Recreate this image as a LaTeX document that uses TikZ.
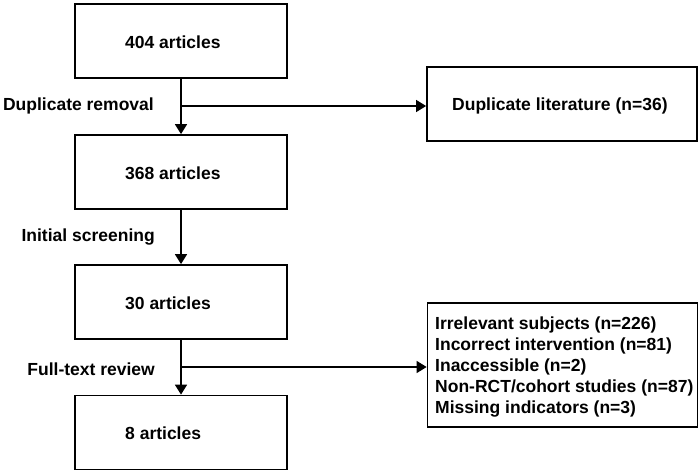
\documentclass[tikz,border=0pt]{standalone}
\usepackage{fontspec}
\setmainfont{Liberation Sans}
\usetikzlibrary{arrows.meta,positioning}
\begin{document}
\begin{tikzpicture}[x=1pt,y=-1pt,
  every node/.style={font=\bfseries\fontsize{17.5}{20.8}\selectfont, inner sep=0pt},
  box/.style={draw, line width=1.8pt, minimum width=212pt, minimum height=74pt},
  sidebox/.style={draw, line width=1.8pt, minimum width=270pt, minimum height=74pt},
  boxtext/.style={anchor=west},
  steplabel/.style={anchor=east},
  flow/.style={line width=1.8pt, -{Triangle[length=10pt,width=12pt]}},
  branch/.style={line width=1.5pt, -{Triangle[length=10pt,width=12pt]}}]
\useasboundingbox (0,0) rectangle (700,473);

% main column
\node[box] (b1) at (181,41) {};
\node[boxtext] at (125,42) {404 articles};
\node[box] (b2) at (181,172) {};
\node[boxtext] at (125,173) {368 articles};
\node[box] (b3) at (181,302) {};
\node[boxtext] at (125,303) {30 articles};
\node[box] (b4) at (181,432.5) {};
\node[boxtext] at (125,433) {8 articles};

% excluded records
\node[sidebox] (d1) at (562,104) {};
\node[anchor=west] at (452,106) {Duplicate literature (n=36)};
\node[sidebox, minimum height=124pt] (d2) at (562.5,365) {};
\node[anchor=west, align=left] at (435,367) {Irrelevant subjects (n=226)\\
Incorrect intervention (n=81)\\
Inaccessible (n=2)\\
Non-RCT/cohort studies (n=87)\\
Missing indicators (n=3)};

% branch points
\coordinate (j1) at (181,106);
\coordinate (j2) at (181,367);

% step labels
\node[steplabel] at (154,106) {Duplicate removal};
\node[steplabel] at (155,237) {Initial screening};
\node[steplabel] at (155,369) {Full-text review};

% connectors
\draw[flow] (b1.south) -- (b2.north);
\draw[flow] (b2.south) -- (b3.north);
\draw[flow] (b3.south) -- (b4.north);
\draw[branch] (j1) -- (j1 -| d1.west);
\draw[branch] (j2) -- (j2 -| d2.west);
\end{tikzpicture}
\end{document}
